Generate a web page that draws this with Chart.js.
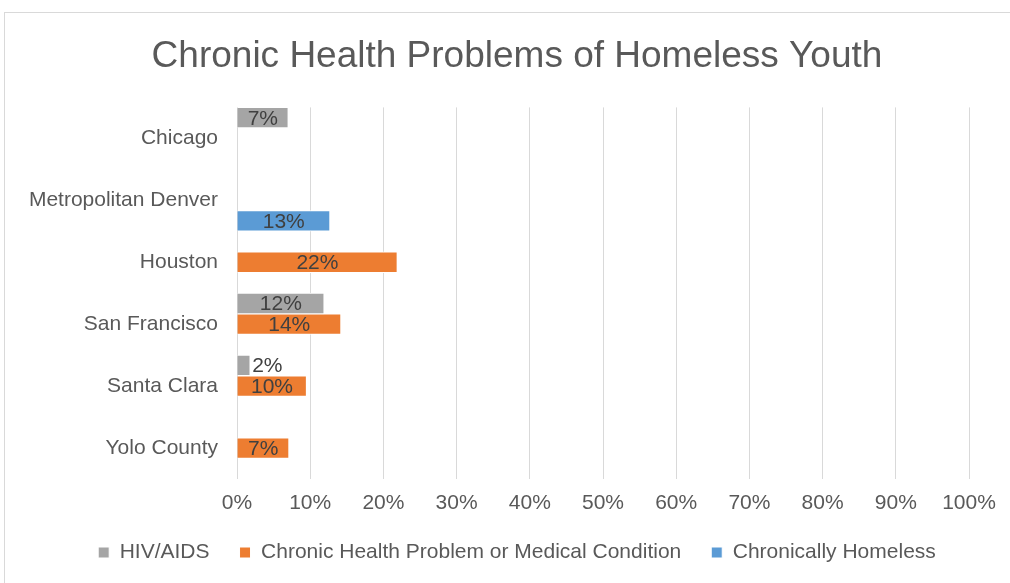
<!DOCTYPE html>
<html>
<head>
<meta charset="utf-8">
<script src="https://cdn.jsdelivr.net/npm/chart.js@4.4.1/dist/chart.umd.min.js"></script>
<style>
  html, body { margin: 0; padding: 0; background: #fff; }
  canvas { display: block; }
</style>
</head>
<body>
<canvas id="myChart" width="1010" height="583"></canvas>
<script>
// values (percent)
var cities = ['Chicago', 'Metropolitan Denver', 'Houston', 'San Francisco', 'Santa Clara', 'Yolo County'];
var hivAids = [7, null, null, 11.9, 1.8, null];
var chronicHealth = [null, null, 21.9, 14.2, 9.5, 7.1];
var chronicallyHomeless = [null, 12.7, null, null, null, null];
var xTickMax = 100;
var xTickStep = 10;

var textGrey = '#595959';
var fontFamily = '"Liberation Sans", Arial, sans-serif';

// white background + light frame like the excel chart box
var frame = {
    id: 'frame',
    beforeDraw: function (chart) {
        var ctx = chart.ctx;
        ctx.save();
        ctx.fillStyle = '#fff';
        ctx.fillRect(0, 0, chart.width, chart.height);
        ctx.strokeStyle = '#d9d9d9';
        ctx.lineWidth = 1;
        ctx.strokeRect(4.5, 12.5, chart.width + 20, chart.height + 20);
        ctx.restore();
    }
};

// value labels on the bars
var barLabels = {
    id: 'barLabels',
    afterDatasetsDraw: function (chart) {
        var ctx = chart.ctx;
        ctx.save();
        ctx.font = '21px ' + fontFamily;
        ctx.fillStyle = '#404040';
        ctx.textBaseline = 'middle';
        chart.data.datasets.forEach(function (ds, i) {
            chart.getDatasetMeta(i).data.forEach(function (bar, j) {
                var v = ds.data[j];
                if (v == null) return;
                var text = Math.round(v) + '%';
                var w = ctx.measureText(text).width;
                var barW = bar.x - bar.base;
                if (w + 4 > barW) {
                    ctx.textAlign = 'left';
                    ctx.fillText(text, bar.x + 2, bar.y + 1);
                } else {
                    ctx.textAlign = 'center';
                    ctx.fillText(text, (bar.x + bar.base) / 2, bar.y + 1);
                }
            });
        });
        ctx.restore();
    }
};

// axis labels may hang outside the (narrowed) axis boxes
function noLabelClip(scale) {
    scale._computeLabelArea = function () { return undefined; };
}

var ctx = document.getElementById('myChart').getContext('2d');
var myChart = new Chart(ctx, {
    type: 'bar',
    data: {
        labels: cities,
        datasets: [{
            label: 'HIV/AIDS',
            data: hivAids,
            backgroundColor: '#a5a5a5',
            borderColor: '#ffffff',
            borderWidth: 1
        }, {
            label: 'Chronic Health Problem or Medical Condition',
            data: chronicHealth,
            backgroundColor: '#ed7d31',
            borderColor: '#ffffff',
            borderWidth: 1
        }, {
            label: 'Chronically Homeless',
            data: chronicallyHomeless,
            backgroundColor: '#5b9bd5',
            borderColor: '#ffffff',
            borderWidth: 1
        }]
    },
    options: {
        indexAxis: 'y',
        responsive: false,
        animation: false,
        devicePixelRatio: 1,
        categoryPercentage: 1,
        barPercentage: 1,
        layout: {
            padding: { top: 35, left: 65, right: 41, bottom: 10 }
        },
        scales: {
            x: {
                min: 0,
                max: xTickMax,
                border: { display: false },
                grid: { color: '#d9d9d9', drawTicks: false },
                ticks: {
                    stepSize: xTickStep,
                    padding: 12,
                    color: textGrey,
                    font: { family: fontFamily, size: 21 },
                    callback: function (v) { return v + '%'; }
                },
                afterFit: function (scale) {
                    scale.height = 33;
                    noLabelClip(scale);
                }
            },
            y: {
                border: { display: false },
                grid: { display: false, drawTicks: false },
                ticks: {
                    padding: 19,
                    color: textGrey,
                    font: { family: fontFamily, size: 21 }
                },
                afterFit: function (scale) {
                    scale.width = 172;
                    noLabelClip(scale);
                }
            }
        },
        plugins: {
            title: {
                display: true,
                text: 'Chronic Health Problems of Homeless Youth',
                color: textGrey,
                font: { family: fontFamily, size: 37, weight: 'normal' },
                padding: { top: 0, bottom: 28 }
            },
            legend: {
                position: 'bottom',
                labels: {
                    boxWidth: 11,
                    boxHeight: 11,
                    padding: 30,
                    color: textGrey,
                    font: { family: fontFamily, size: 21 }
                }
            },
            tooltip: { enabled: false }
        }
    },
    plugins: [frame, barLabels]
});
</script>
</body>
</html>
